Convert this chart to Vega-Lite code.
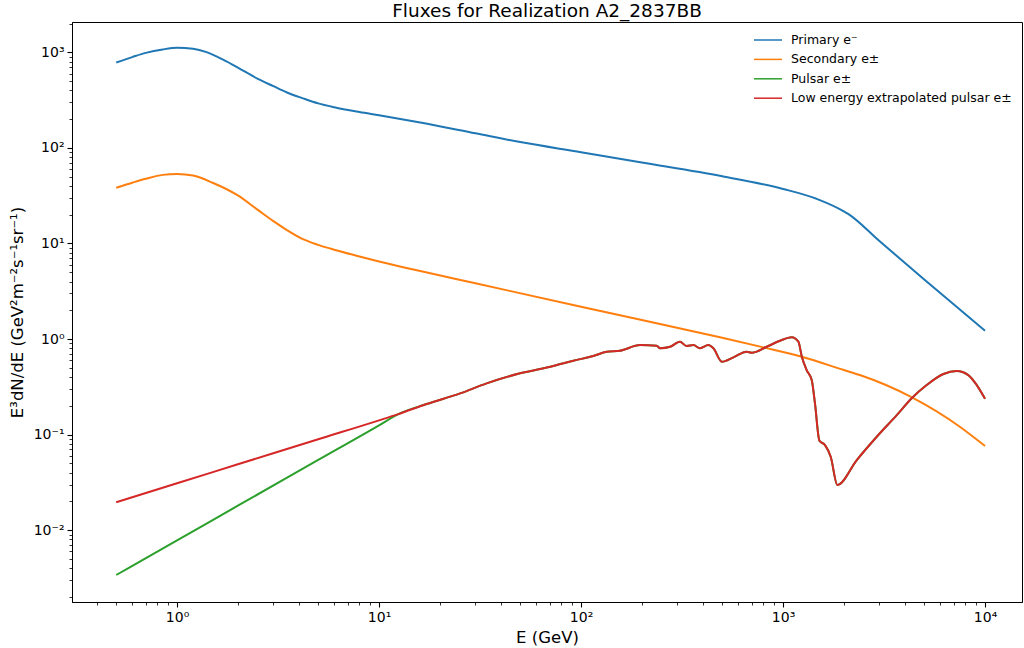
{
  "$schema": "https://vega.github.io/schema/vega-lite/v6.json",
  "width": 950,
  "height": 580,
  "autosize": {"type": "none"},
  "padding": {"left": 72, "top": 22, "right": 2, "bottom": 46},
  "background": "white",
  "title": {
    "text": "Fluxes for Realization A2_2837BB",
    "font": "DejaVu Sans",
    "fontSize": 18.5,
    "fontWeight": "normal",
    "color": "black",
    "anchor": "middle",
    "baseline": "bottom",
    "offset": 2,
    "dy": 25
  },
  "config": {
    "view": {"stroke": "black", "strokeWidth": 1},
    "font": "DejaVu Sans",
    "axis": {
      "grid": false,
      "domainColor": "black",
      "domainWidth": 1,
      "tickColor": "black",
      "labelColor": "black",
      "titleColor": "black",
      "labelFont": "DejaVu Sans",
      "titleFont": "DejaVu Sans",
      "labelFontSize": 14,
      "titleFontSize": 16.5,
      "titleFontWeight": "normal",
      "labelOverlap": false,
      "labelFlush": false
    },
    "legend": {
      "orient": "none",
      "legendX": 685,
      "legendY": 7,
      "padding": 0,
      "rowPadding": 1.4,
      "symbolType": "M-1.4,0H1.4",
      "symbolSize": 400,
      "symbolStrokeWidth": 1.5,
      "labelFont": "DejaVu Sans",
      "labelFontSize": 12.5,
      "labelColor": "black",
      "labelOffset": 12,
      "labelLimit": 400
    }
  },
  "datasets": {
    "flux": [
      {"s": "Primary e⁻", "E": 0.5, "F": 783},
      {"s": "Primary e⁻", "E": 0.6, "F": 891},
      {"s": "Primary e⁻", "E": 0.7, "F": 986},
      {"s": "Primary e⁻", "E": 0.85, "F": 1072},
      {"s": "Primary e⁻", "E": 1.0, "F": 1114},
      {"s": "Primary e⁻", "E": 1.2, "F": 1089},
      {"s": "Primary e⁻", "E": 1.4, "F": 1005},
      {"s": "Primary e⁻", "E": 1.7, "F": 832},
      {"s": "Primary e⁻", "E": 2.0, "F": 692},
      {"s": "Primary e⁻", "E": 2.5, "F": 530},
      {"s": "Primary e⁻", "E": 3.0, "F": 442},
      {"s": "Primary e⁻", "E": 3.5, "F": 380},
      {"s": "Primary e⁻", "E": 4.2, "F": 330},
      {"s": "Primary e⁻", "E": 5, "F": 292},
      {"s": "Primary e⁻", "E": 6, "F": 266},
      {"s": "Primary e⁻", "E": 8, "F": 237},
      {"s": "Primary e⁻", "E": 10, "F": 219},
      {"s": "Primary e⁻", "E": 16, "F": 184},
      {"s": "Primary e⁻", "E": 30, "F": 142},
      {"s": "Primary e⁻", "E": 50, "F": 115},
      {"s": "Primary e⁻", "E": 100, "F": 90},
      {"s": "Primary e⁻", "E": 200, "F": 70.2},
      {"s": "Primary e⁻", "E": 500, "F": 50.4},
      {"s": "Primary e⁻", "E": 1000, "F": 37.2},
      {"s": "Primary e⁻", "E": 1500, "F": 28.8},
      {"s": "Primary e⁻", "E": 2000, "F": 21.7},
      {"s": "Primary e⁻", "E": 2100, "F": 20.4},
      {"s": "Primary e⁻", "E": 3000, "F": 10.6},
      {"s": "Primary e⁻", "E": 5000, "F": 4.2},
      {"s": "Primary e⁻", "E": 10000, "F": 1.22},

      {"s": "Secondary e±", "E": 0.5, "F": 38.3},
      {"s": "Secondary e±", "E": 0.6, "F": 43.2},
      {"s": "Secondary e±", "E": 0.7, "F": 47.5},
      {"s": "Secondary e±", "E": 0.85, "F": 52.2},
      {"s": "Secondary e±", "E": 1.0, "F": 53.3},
      {"s": "Secondary e±", "E": 1.2, "F": 51.3},
      {"s": "Secondary e±", "E": 1.5, "F": 43.2},
      {"s": "Secondary e±", "E": 2.0, "F": 31.8},
      {"s": "Secondary e±", "E": 2.5, "F": 22.6},
      {"s": "Secondary e±", "E": 3.0, "F": 17.1},
      {"s": "Secondary e±", "E": 3.5, "F": 13.8},
      {"s": "Secondary e±", "E": 4.2, "F": 11.1},
      {"s": "Secondary e±", "E": 5, "F": 9.66},
      {"s": "Secondary e±", "E": 6, "F": 8.59},
      {"s": "Secondary e±", "E": 8, "F": 7.31},
      {"s": "Secondary e±", "E": 10, "F": 6.49},
      {"s": "Secondary e±", "E": 16, "F": 5.14},
      {"s": "Secondary e±", "E": 30, "F": 3.83},
      {"s": "Secondary e±", "E": 100, "F": 2.18},
      {"s": "Secondary e±", "E": 200, "F": 1.58},
      {"s": "Secondary e±", "E": 500, "F": 1.03},
      {"s": "Secondary e±", "E": 800, "F": 0.818},
      {"s": "Secondary e±", "E": 1250, "F": 0.649},
      {"s": "Secondary e±", "E": 2000, "F": 0.474},
      {"s": "Secondary e±", "E": 2400, "F": 0.42},
      {"s": "Secondary e±", "E": 4300, "F": 0.248},
      {"s": "Secondary e±", "E": 7500, "F": 0.121},
      {"s": "Secondary e±", "E": 10000, "F": 0.076},

      {"s": "Pulsar e±", "E": 0.5, "F": 0.0034},
      {"s": "Pulsar e±", "E": 1, "F": 0.00783},
      {"s": "Pulsar e±", "E": 2, "F": 0.01805},
      {"s": "Pulsar e±", "E": 5, "F": 0.0543},
      {"s": "Pulsar e±", "E": 10, "F": 0.125},
      {"s": "Pulsar e±", "E": 12.46, "F": 0.164},
      {"s": "Pulsar e±", "E": 17.2, "F": 0.209},
      {"s": "Pulsar e±", "E": 25.2, "F": 0.270},
      {"s": "Pulsar e±", "E": 34.1, "F": 0.344},
      {"s": "Pulsar e±", "E": 49.9, "F": 0.438},
      {"s": "Pulsar e±", "E": 72.9, "F": 0.522},
      {"s": "Pulsar e±", "E": 91.6, "F": 0.593},
      {"s": "Pulsar e±", "E": 115, "F": 0.664},
      {"s": "Pulsar e±", "E": 134, "F": 0.736},
      {"s": "Pulsar e±", "E": 156, "F": 0.755},
      {"s": "Pulsar e±", "E": 196, "F": 0.865},
      {"s": "Pulsar e±", "E": 237, "F": 0.851},
      {"s": "Pulsar e±", "E": 246, "F": 0.800},
      {"s": "Pulsar e±", "E": 276, "F": 0.830},
      {"s": "Pulsar e±", "E": 309, "F": 0.938},
      {"s": "Pulsar e±", "E": 333, "F": 0.845},
      {"s": "Pulsar e±", "E": 360, "F": 0.865},
      {"s": "Pulsar e±", "E": 388, "F": 0.800},
      {"s": "Pulsar e±", "E": 427, "F": 0.865},
      {"s": "Pulsar e±", "E": 452, "F": 0.800},
      {"s": "Pulsar e±", "E": 498, "F": 0.579},
      {"s": "Pulsar e±", "E": 568, "F": 0.644},
      {"s": "Pulsar e±", "E": 661, "F": 0.736},
      {"s": "Pulsar e±", "E": 700, "F": 0.719},
      {"s": "Pulsar e±", "E": 830, "F": 0.830},
      {"s": "Pulsar e±", "E": 966, "F": 0.959},
      {"s": "Pulsar e±", "E": 1104, "F": 1.042},
      {"s": "Pulsar e±", "E": 1191, "F": 0.938},
      {"s": "Pulsar e±", "E": 1239, "F": 0.653},
      {"s": "Pulsar e±", "E": 1309, "F": 0.474},
      {"s": "Pulsar e±", "E": 1387, "F": 0.372},
      {"s": "Pulsar e±", "E": 1439, "F": 0.212},
      {"s": "Pulsar e±", "E": 1514, "F": 0.0863},
      {"s": "Pulsar e±", "E": 1614, "F": 0.0778},
      {"s": "Pulsar e±", "E": 1722, "F": 0.0587},
      {"s": "Pulsar e±", "E": 1858, "F": 0.0297},
      {"s": "Pulsar e±", "E": 2317, "F": 0.0542},
      {"s": "Pulsar e±", "E": 2911, "F": 0.0951},
      {"s": "Pulsar e±", "E": 3656, "F": 0.160},
      {"s": "Pulsar e±", "E": 4335, "F": 0.240},
      {"s": "Pulsar e±", "E": 5140, "F": 0.330},
      {"s": "Pulsar e±", "E": 6223, "F": 0.431},
      {"s": "Pulsar e±", "E": 7244, "F": 0.462},
      {"s": "Pulsar e±", "E": 8260, "F": 0.420},
      {"s": "Pulsar e±", "E": 9099, "F": 0.330},
      {"s": "Pulsar e±", "E": 10000, "F": 0.237},

      {"s": "Low energy extrapolated pulsar e±", "E": 0.5, "F": 0.0196},
      {"s": "Low energy extrapolated pulsar e±", "E": 1, "F": 0.0310},
      {"s": "Low energy extrapolated pulsar e±", "E": 2, "F": 0.0489},
      {"s": "Low energy extrapolated pulsar e±", "E": 5, "F": 0.0895},
      {"s": "Low energy extrapolated pulsar e±", "E": 10, "F": 0.141},
      {"s": "Low energy extrapolated pulsar e±", "E": 12.46, "F": 0.164},
      {"s": "Low energy extrapolated pulsar e±", "E": 17.2, "F": 0.209},
      {"s": "Low energy extrapolated pulsar e±", "E": 25.2, "F": 0.270},
      {"s": "Low energy extrapolated pulsar e±", "E": 34.1, "F": 0.344},
      {"s": "Low energy extrapolated pulsar e±", "E": 49.9, "F": 0.438},
      {"s": "Low energy extrapolated pulsar e±", "E": 72.9, "F": 0.522},
      {"s": "Low energy extrapolated pulsar e±", "E": 91.6, "F": 0.593},
      {"s": "Low energy extrapolated pulsar e±", "E": 115, "F": 0.664},
      {"s": "Low energy extrapolated pulsar e±", "E": 134, "F": 0.736},
      {"s": "Low energy extrapolated pulsar e±", "E": 156, "F": 0.755},
      {"s": "Low energy extrapolated pulsar e±", "E": 196, "F": 0.865},
      {"s": "Low energy extrapolated pulsar e±", "E": 237, "F": 0.851},
      {"s": "Low energy extrapolated pulsar e±", "E": 246, "F": 0.800},
      {"s": "Low energy extrapolated pulsar e±", "E": 276, "F": 0.830},
      {"s": "Low energy extrapolated pulsar e±", "E": 309, "F": 0.938},
      {"s": "Low energy extrapolated pulsar e±", "E": 333, "F": 0.845},
      {"s": "Low energy extrapolated pulsar e±", "E": 360, "F": 0.865},
      {"s": "Low energy extrapolated pulsar e±", "E": 388, "F": 0.800},
      {"s": "Low energy extrapolated pulsar e±", "E": 427, "F": 0.865},
      {"s": "Low energy extrapolated pulsar e±", "E": 452, "F": 0.800},
      {"s": "Low energy extrapolated pulsar e±", "E": 498, "F": 0.579},
      {"s": "Low energy extrapolated pulsar e±", "E": 568, "F": 0.644},
      {"s": "Low energy extrapolated pulsar e±", "E": 661, "F": 0.736},
      {"s": "Low energy extrapolated pulsar e±", "E": 700, "F": 0.719},
      {"s": "Low energy extrapolated pulsar e±", "E": 830, "F": 0.830},
      {"s": "Low energy extrapolated pulsar e±", "E": 966, "F": 0.959},
      {"s": "Low energy extrapolated pulsar e±", "E": 1104, "F": 1.042},
      {"s": "Low energy extrapolated pulsar e±", "E": 1191, "F": 0.938},
      {"s": "Low energy extrapolated pulsar e±", "E": 1239, "F": 0.653},
      {"s": "Low energy extrapolated pulsar e±", "E": 1309, "F": 0.474},
      {"s": "Low energy extrapolated pulsar e±", "E": 1387, "F": 0.372},
      {"s": "Low energy extrapolated pulsar e±", "E": 1439, "F": 0.212},
      {"s": "Low energy extrapolated pulsar e±", "E": 1514, "F": 0.0863},
      {"s": "Low energy extrapolated pulsar e±", "E": 1614, "F": 0.0778},
      {"s": "Low energy extrapolated pulsar e±", "E": 1722, "F": 0.0587},
      {"s": "Low energy extrapolated pulsar e±", "E": 1858, "F": 0.0297},
      {"s": "Low energy extrapolated pulsar e±", "E": 2317, "F": 0.0542},
      {"s": "Low energy extrapolated pulsar e±", "E": 2911, "F": 0.0951},
      {"s": "Low energy extrapolated pulsar e±", "E": 3656, "F": 0.160},
      {"s": "Low energy extrapolated pulsar e±", "E": 4335, "F": 0.240},
      {"s": "Low energy extrapolated pulsar e±", "E": 5140, "F": 0.330},
      {"s": "Low energy extrapolated pulsar e±", "E": 6223, "F": 0.431},
      {"s": "Low energy extrapolated pulsar e±", "E": 7244, "F": 0.462},
      {"s": "Low energy extrapolated pulsar e±", "E": 8260, "F": 0.420},
      {"s": "Low energy extrapolated pulsar e±", "E": 9099, "F": 0.330},
      {"s": "Low energy extrapolated pulsar e±", "E": 10000, "F": 0.237}
    ]
  },
  "data": {"name": "flux"},
  "encoding": {
    "x": {
      "field": "E",
      "type": "quantitative",
      "title": "E (GeV)",
      "scale": {"type": "log", "domain": [0.302, 15240], "nice": false},
      "axis": {
        "values": [0.4, 0.5, 0.6, 0.7, 0.8, 0.9, 1, 2, 3, 4, 5, 6, 7, 8, 9, 10, 20, 30, 40, 50, 60, 70, 80, 90, 100, 200, 300, 400, 500, 600, 700, 800, 900, 1000, 2000, 3000, 4000, 5000, 6000, 7000, 8000, 9000, 10000],
        "labelExpr": "abs(log(datum.value)/LN10 - round(log(datum.value)/LN10)) < 0.001 ? ['10⁰','10¹','10²','10³','10⁴'][round(log(datum.value)/LN10)] : ''",
        "tickSize": {"condition": {"test": "abs(log(datum.value)/LN10 - round(log(datum.value)/LN10)) < 0.001", "value": 5}, "value": 3},
        "tickWidth": {"condition": {"test": "abs(log(datum.value)/LN10 - round(log(datum.value)/LN10)) < 0.001", "value": 1.1}, "value": 0.8},
        "labelPadding": 3,
        "titlePadding": 5
      }
    },
    "y": {
      "field": "F",
      "type": "quantitative",
      "title": "E³dN/dE (GeV²m⁻²s⁻¹sr⁻¹)",
      "scale": {"type": "log", "domain": [0.001774, 2075], "nice": false},
      "axis": {
        "values": [0.002, 0.003, 0.004, 0.005, 0.006, 0.007, 0.008, 0.009, 0.01, 0.02, 0.03, 0.04, 0.05, 0.06, 0.07, 0.08, 0.09, 0.1, 0.2, 0.3, 0.4, 0.5, 0.6, 0.7, 0.8, 0.9, 1, 2, 3, 4, 5, 6, 7, 8, 9, 10, 20, 30, 40, 50, 60, 70, 80, 90, 100, 200, 300, 400, 500, 600, 700, 800, 900, 1000, 2000],
        "labelExpr": "abs(log(datum.value)/LN10 - round(log(datum.value)/LN10)) < 0.001 ? ['10⁻²','10⁻¹','10⁰','10¹','10²','10³'][round(log(datum.value)/LN10) + 2] : ''",
        "tickSize": {"condition": {"test": "abs(log(datum.value)/LN10 - round(log(datum.value)/LN10)) < 0.001", "value": 5}, "value": 3},
        "tickWidth": {"condition": {"test": "abs(log(datum.value)/LN10 - round(log(datum.value)/LN10)) < 0.001", "value": 1.1}, "value": 0.8},
        "labelPadding": 3,
        "titlePadding": 8
      }
    },
    "color": {
      "field": "s",
      "type": "nominal",
      "title": null,
      "scale": {
        "domain": ["Primary e⁻", "Secondary e±", "Pulsar e±", "Low energy extrapolated pulsar e±"],
        "range": ["#1f77b4", "#ff7f0e", "#2ca02c", "#d62728"]
      }
    }
  },
  "layer": [
    {
      "transform": [{"filter": "datum.s === 'Primary e⁻' || datum.s === 'Secondary e±'"}],
      "mark": {"type": "line", "interpolate": "monotone", "strokeWidth": 2}
    },
    {
      "transform": [{"filter": "datum.s === 'Pulsar e±'"}],
      "mark": {"type": "line", "interpolate": "monotone", "strokeWidth": 2}
    },
    {
      "transform": [{"filter": "datum.s === 'Low energy extrapolated pulsar e±'"}],
      "mark": {"type": "line", "interpolate": "monotone", "strokeWidth": 2}
    }
  ]
}
